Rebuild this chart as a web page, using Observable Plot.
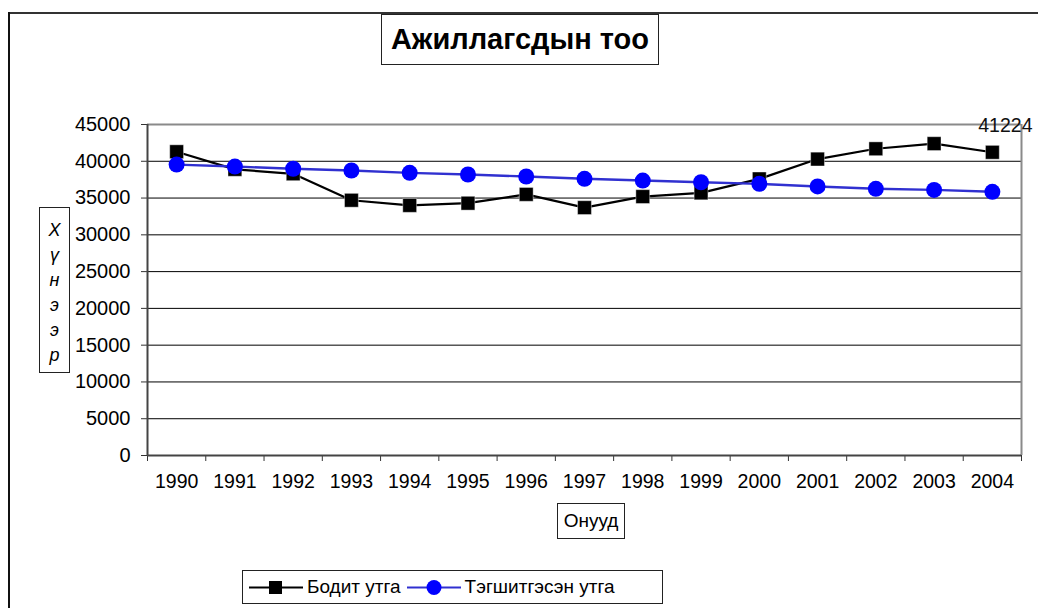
<!DOCTYPE html>
<html><head><meta charset="utf-8">
<script src="https://cdn.jsdelivr.net/npm/d3@7"></script>
<script src="https://cdn.jsdelivr.net/npm/@observablehq/plot@0.6"></script>
<style>
body{margin:0;background:#fff;font-family:Arial,"Liberation Sans",sans-serif;}
#wrap{position:relative;width:1038px;height:608px;overflow:hidden;background:#fff}
#wrap svg{position:absolute;left:0;top:0}
.frameTop{position:absolute;left:8px;top:12px;width:1030px;height:2px;background:#333}
.frameLeft{position:absolute;left:8px;top:12px;width:2px;height:600px;background:#111}
.box{position:absolute;border:1px solid #222;background:#fff;box-sizing:border-box;color:#000}
#title{left:381px;top:14px;width:278px;height:51px;font-weight:bold;font-size:29px;display:flex;align-items:center;justify-content:center}
#ylab{left:39px;top:207px;width:31px;height:166px;font-style:italic;font-size:18px;line-height:25px;text-align:center;padding-top:10px}
#xlab{left:557px;top:503px;width:68px;height:36px;font-size:19px;display:flex;align-items:center;justify-content:center}
#legend{left:242px;top:570px;width:421px;height:34px;font-size:19px;display:flex;align-items:center;padding-left:6px}
#legend .item{display:flex;align-items:center;margin-right:6px}
#legend svg{position:static;margin-right:4px}
</style></head><body><div id="wrap"></div>
<script>
const years = [1990,1991,1992,1993,1994,1995,1996,1997,1998,1999,2000,2001,2002,2003,2004];
const actual = [41300,38900,38300,34700,34000,34300,35500,33700,35200,35700,37600,40300,41700,42400,41224];
const smoothed = [39550,39280,38980,38750,38430,38200,37930,37620,37380,37150,36930,36580,36260,36110,35850];
const yTicks = [0,5000,10000,15000,20000,25000,30000,35000,40000,45000];
const seriesNames = ["Бодит утга","Тэгшитгэсэн утга"];
const seriesColors = ["#000000","#0000ff"];
const titleText = "Ажиллагсдын тоо";
const yLabelText = "Хүнээр";
const xLabelText = "Онууд";

const rowsA = years.map((y,i)=>({year:y,value:actual[i]}));
const rowsS = years.map((y,i)=>({year:y,value:smoothed[i]}));
const bounds = years.map(y=>y-0.5).concat([years[years.length-1]+0.5]);
const yMin = yTicks[0], yMax = yTicks[yTicks.length-1];
const lastA = rowsA[rowsA.length-1];

const chart = Plot.plot({
  width:1038, height:608,
  marginLeft:147, marginRight:17, marginTop:124, marginBottom:153,
  style:{fontFamily:"Arial, 'Liberation Sans', sans-serif", fontSize:"19px", color:"#000", background:"transparent"},
  x:{type:"linear", domain:[bounds[0], bounds[bounds.length-1]]},
  y:{type:"linear", domain:[yMin,yMax]},
  marks:[
    Plot.ruleY(yTicks.filter(v=>v>yMin && v<yMax), {stroke:"#000", strokeWidth:1}),
    Plot.ruleY([yMax], {stroke:"#8a8a8a", strokeWidth:2}),
    Plot.ruleX([bounds[bounds.length-1]], {stroke:"#8a8a8a", strokeWidth:2}),
    Plot.axisY({ticks:yTicks, tickSize:6, tickPadding:11, tickFormat:d=>String(d), stroke:"#333", label:null, fontSize:20}),
    Plot.axisX({ticks:bounds, tickSize:6, tickFormat:()=>"", stroke:"#333", label:null}),
    Plot.axisX({ticks:years, tickSize:0, tickPadding:19, tickFormat:d=>String(d), label:null, fontSize:19.5}),
    Plot.ruleX([bounds[0]], {stroke:"#444", strokeWidth:2}),
    Plot.ruleY([yMin], {stroke:"#444", strokeWidth:2}),
    Plot.line(rowsA, {x:"year", y:"value", stroke:seriesColors[0], strokeWidth:2.2}),
    Plot.dot(rowsA, {x:"year", y:"value", symbol:"square", r:7.8, fill:seriesColors[0], stroke:"#fff", strokeWidth:0.4}),
    Plot.line(rowsS, {x:"year", y:"value", stroke:"#3030d0", strokeWidth:2.4}),
    Plot.dot(rowsS, {x:"year", y:"value", r:8, fill:seriesColors[1], stroke:"none"}),
    Plot.text([lastA], {x:"year", y:"value", text:d=>String(d.value), dx:13, dy:-27, fontSize:19.5, fill:"#111"})
  ]
});
const wrap = document.getElementById("wrap");
wrap.appendChild(chart);

function add(cls, id, html){const d=document.createElement("div");d.className=cls;if(id)d.id=id;if(html!=null)d.innerHTML=html;wrap.appendChild(d);return d;}
add("frameTop");
add("frameLeft");
add("box","title").textContent = titleText;
add("box","ylab").innerHTML = Array.from(yLabelText).join("<br>");
add("box","xlab").textContent = xLabelText;
const lg = add("box","legend");
seriesNames.forEach((name,i)=>{
  const it=document.createElement("div");it.className="item";
  const sym = i===0
    ? `<rect x="20" y="5" width="13" height="13" fill="${seriesColors[0]}"/>`
    : `<circle cx="27" cy="11.5" r="7.5" fill="${seriesColors[1]}"/>`;
  const lineCol = i===0 ? "#000" : "#3030d0";
  it.innerHTML = `<svg width="54" height="23"><line x1="0" x2="54" y1="11.5" y2="11.5" stroke="${lineCol}" stroke-width="2.2"/>${sym}</svg><span>${name}</span>`;
  lg.appendChild(it);
});
</script>
</body></html>
